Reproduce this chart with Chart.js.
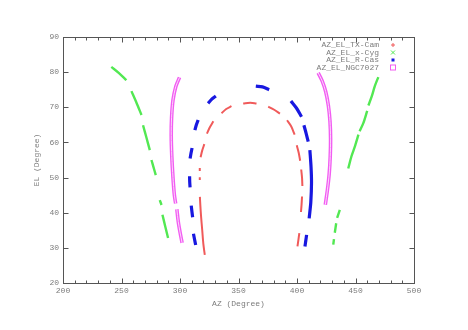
<!DOCTYPE html>
<html>
<head>
<meta charset="utf-8">
<script src="https://cdn.jsdelivr.net/npm/chart.js@4/dist/chart.umd.min.js"></script>
<style>
html,body{margin:0;padding:0;background:#fff;}
canvas{display:block;}
</style>
</head>
<body>
<canvas id="c" width="468" height="330"></canvas>
<script>
const seriesNames = ["AZ_EL_TX-Cam", "AZ_EL_x-Cyg", "AZ_EL_R-Cas", "AZ_EL_NGC7027"];
const xTicks = [200, 250, 300, 350, 400, 450, 500];
const yTicks = [20, 30, 40, 50, 60, 70, 80, 90];

const txCam = [
  [[321.2,28.0],[320.0,31.0],[319.0,35.0],[318.0,39.0],[317.4,42.0],[317.0,44.5]],
  [[316.9,49.3],[316.9,50.1]],
  [[316.9,51.9],[316.9,52.7]],
  [[317.6,55.8],[318.9,57.6],[320.8,59.5]],
  [[323.0,62.5],[325.5,64.3],[328.5,66.0]],
  [[335.5,68.3],[339.5,69.5],[344.0,70.3]],
  [[354.0,71.1],[360.0,71.3],[365.4,71.1]],
  [[375.4,70.2],[380.5,69.3],[385.4,68.2]],
  [[391.5,66.3],[395.0,64.6],[398.0,62.2]],
  [[399.8,59.2],[401.5,57.0],[402.7,54.8]],
  [[403.6,52.3],[404.3,50.0],[404.6,47.6]],
  [[404.3,44.6],[403.9,42.3],[403.4,40.2]],
  [[402.0,34.2],[401.2,32.3],[400.4,30.4]]
];
const xCyg = [
  [[241.3,81.5],[247.6,79.8],[254.2,77.7]],
  [[258.5,74.6],[262.8,71.3],[267.1,67.8]],
  [[268.4,64.9],[271.3,61.4],[274.2,57.8]],
  [[275.6,55.0],[277.4,52.9],[279.3,50.7]],
  [[282.7,43.6],[284.2,42.2]],
  [[285.0,39.4],[287.4,36.1],[289.8,32.8]],
  [[443.8,52.6],[446.5,56.0],[449.5,58.9],[452.5,62.2]],
  [[453.5,63.2],[456.6,65.4],[460.0,69.0]],
  [[461.0,70.5],[463.8,73.0],[466.5,76.0],[469.5,78.6]],
  [[431.0,30.9],[431.6,32.5]],
  [[432.3,34.3],[433.5,37.0]],
  [[434.3,38.5],[436.6,40.8]]
];
const rCas = [
  [[311.5,34.0],[312.5,32.3],[313.4,30.8]],
  [[309.6,42.0],[310.2,40.3],[310.8,38.7]],
  [[308.2,50.4],[308.3,48.8],[308.6,47.2]],
  [[308.6,55.4],[309.4,56.9],[310.3,58.4]],
  [[312.7,63.5],[314.0,65.0],[315.5,66.4]],
  [[324.0,71.1],[327.2,72.3],[330.6,73.2]],
  [[364.8,76.0],[370.5,75.8],[376.2,75.0]],
  [[394.8,71.8],[399.5,69.8],[403.9,67.3]],
  [[405.9,64.9],[407.8,62.6],[409.6,60.2]],
  [[411.0,57.8],[412.0,53.0],[412.4,48.5],[411.8,43.0],[410.4,38.4]],
  [[408.2,33.7],[407.5,32.0],[406.8,30.4]]
];
const ngc7027 = [
  [[299.6,78.5],[296.5,76.0],[294.0,72.0],[292.8,67.0],[292.5,62.0],[293.0,56.0],[294.0,50.0],[295.2,45.0],[296.3,42.6]],
  [[297.3,41.0],[298.5,37.5],[300.0,34.5],[301.8,31.4]],
  [[418.1,79.8],[421.5,77.5],[424.5,74.5],[426.8,70.5],[428.2,66.0],[428.7,61.0],[428.4,56.0],[427.5,51.0],[426.0,46.5],[424.2,42.3]]
];

// ---- build the library data (runs separated by gaps) ----
function toData(runs){
  const out = [];
  runs.forEach((run, i) => {
    if (i) out.push({x: NaN, y: NaN});
    run.forEach(p => out.push({x: p[0], y: p[1]}));
  });
  return out;
}

const colors = {
  red: '#f05a5a', green: '#52e852', blue: '#1818e0', magenta: '#f25cf2', magentaIn: '#fcd8fc'
};
const FONT = 'Liberation Mono, DejaVu Sans Mono, monospace';
const TXT = '#7c7c7c';
const AX = '#555555';

function lineDs(label, runs, color, width, order){
  return {
    label, data: toData(runs), showLine: true, spanGaps: false, order,
    borderColor: color, backgroundColor: color, borderWidth: width,
    pointRadius: 0, tension: 0.3, borderCapStyle: 'butt'
  };
}

const frame = {
  id: 'frame',
  afterDraw(chart){
    const {ctx, chartArea: a, scales: {x, y}} = chart;
    ctx.save();
    ctx.strokeStyle = AX; ctx.lineWidth = 1;
    const L = Math.round(a.left)+0.5, R = Math.round(a.right)+0.5,
          T = Math.round(a.top)+0.5, B = Math.round(a.bottom)+0.5;
    ctx.strokeRect(L, T, R-L, B-T);
    ctx.beginPath();
    for (let v = xTicks[0]; v <= xTicks[xTicks.length-1]; v += 10){
      const px = Math.round(x.getPixelForValue(v))+0.5;
      const len = (v % 50 === 0) ? 5 : 3;
      ctx.moveTo(px, B); ctx.lineTo(px, B-len);
      ctx.moveTo(px, T); ctx.lineTo(px, T+len);
    }
    yTicks.forEach(v => {
      const py = Math.round(y.getPixelForValue(v))+0.5;
      ctx.moveTo(L, py); ctx.lineTo(L+5, py);
      ctx.moveTo(R, py); ctx.lineTo(R-5, py);
    });
    ctx.stroke();

    // legend (text right-aligned, sample on the right)
    ctx.font = '8px ' + FONT;
    ctx.fillStyle = TXT; ctx.textAlign = 'right'; ctx.textBaseline = 'middle';
    const tx = 379, mx = 393, rows = [45, 52.5, 60, 67.5];
    seriesNames.forEach((n, i) => ctx.fillText(n, tx, rows[i]));
    ctx.lineWidth = 1;
    ctx.strokeStyle = colors.red;
    ctx.beginPath();
    ctx.moveTo(mx-2, rows[0]); ctx.lineTo(mx+2, rows[0]);
    ctx.moveTo(mx, rows[0]-2); ctx.lineTo(mx, rows[0]+2);
    ctx.stroke();
    ctx.strokeStyle = colors.green;
    ctx.beginPath();
    ctx.moveTo(mx-2, rows[1]-2); ctx.lineTo(mx+2, rows[1]+2);
    ctx.moveTo(mx+2, rows[1]-2); ctx.lineTo(mx-2, rows[1]+2);
    ctx.stroke();
    ctx.fillStyle = colors.blue;
    ctx.fillRect(mx-1.5, rows[2]-1.5, 3, 3);
    ctx.strokeStyle = colors.magenta;
    ctx.strokeRect(mx-2.5, rows[3]-2.5, 5, 5);
    ctx.restore();
  }
};

new Chart(document.getElementById('c'), {
  type: 'scatter',
  data: {
    datasets: [
      lineDs(seriesNames[0], txCam, colors.red, 2, 1),
      lineDs(seriesNames[1], xCyg, colors.green, 2.4, 1),
      lineDs(seriesNames[2], rCas, colors.blue, 3.2, 1),
      lineDs(seriesNames[3], ngc7027, colors.magenta, 3.6, 1),
      lineDs(seriesNames[3] + ' inner', ngc7027, colors.magentaIn, 1, 0)
    ]
  },
  options: {
    responsive: false, animation: false, devicePixelRatio: 1,
    layout: {padding: {left: 32, right: 54, top: 37, bottom: 0}},
    plugins: {legend: {display: false}, tooltip: {enabled: false}},
    scales: {
      x: {
        type: 'linear', min: 200, max: 500,
        afterBuildTicks: s => { s.ticks = xTicks.map(v => ({value: v})); },
        afterFit: s => { s.height = 47; },
        grid: {display: false, drawTicks: false}, border: {display: false},
        ticks: {color: TXT, font: {family: FONT, size: 8}, padding: 3, maxRotation: 0, autoSkip: false},
        title: {display: true, text: 'AZ (Degree)', color: TXT, font: {family: FONT, size: 8}, padding: {top: 0, bottom: 21}}
      },
      y: {
        type: 'linear', min: 20, max: 90,
        afterBuildTicks: s => { s.ticks = yTicks.map(v => ({value: v})); },
        afterFit: s => { s.width = 31; },
        grid: {display: false, drawTicks: false}, border: {display: false},
        ticks: {color: TXT, font: {family: FONT, size: 8}, padding: 4, autoSkip: false},
        title: {display: true, text: 'EL (Degree)', color: TXT, font: {family: FONT, size: 8}, padding: {top: 0.5, bottom: 0}}
      }
    }
  },
  plugins: [frame]
});
</script>
</body>
</html>
